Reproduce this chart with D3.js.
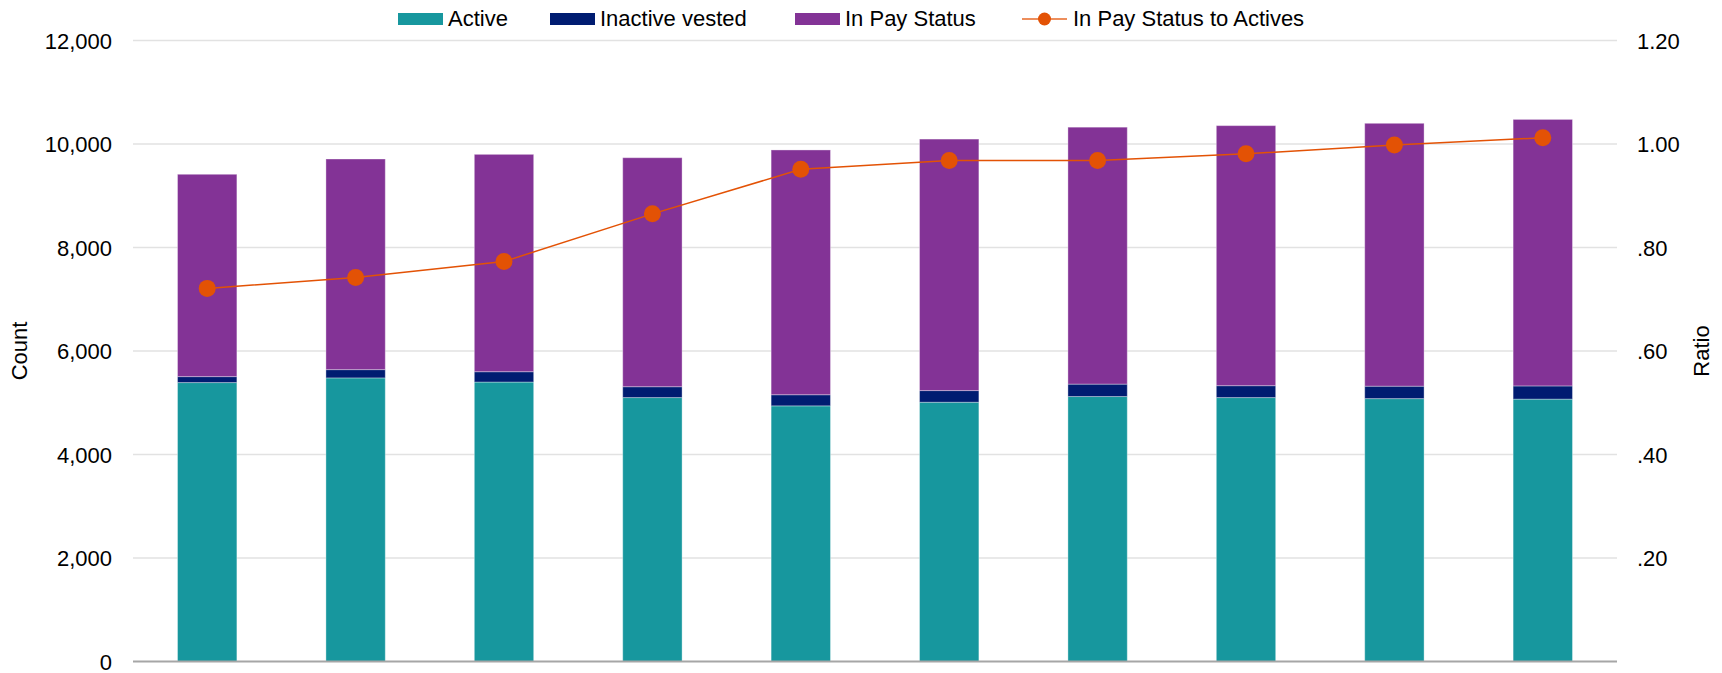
<!DOCTYPE html>
<html>
<head>
<meta charset="utf-8">
<script src="https://cdn.jsdelivr.net/npm/d3@7"></script>
<style>
  html, body { margin: 0; padding: 0; background: #fff; }
  svg { display: block; font-family: "Liberation Sans", Arial, sans-serif; }
</style>
</head>
<body>
<svg id="chart" width="1722" height="673"></svg>
<script>
// ---- data ----
const categories = ["1", "2", "3", "4", "5", "6", "7", "8", "9", "10"];
const active     = [5390, 5480, 5400, 5100, 4940, 5010, 5120, 5100, 5080, 5070];
const inactive   = [115, 160, 200, 210, 215, 225, 240, 230, 240, 255];
const inPay      = [3910, 4070, 4200, 4425, 4730, 4860, 4965, 5025, 5080, 5150];
const ratio      = [0.721, 0.742, 0.773, 0.865, 0.951, 0.968, 0.968, 0.981, 0.998, 1.012];
const countTicks = [0, 2000, 4000, 6000, 8000, 10000, 12000];
const ratioTicks = [0.2, 0.4, 0.6, 0.8, 1.0, 1.2];
const seriesNames = ["Active", "Inactive vested", "In Pay Status"];
const lineName = "In Pay Status to Actives";

const colors = { "Active": "#17979E", "Inactive vested": "#001C71", "In Pay Status": "#833396", line: "#E35205" };

// ---- layout ----
const svg = d3.select("#chart");
const m = { left: 133, right: 1617, top: 40.5, bottom: 661.5 };
const FS = 22;

const x = d3.scaleBand().domain(categories).range([m.left, m.right]).paddingInner(0.6).paddingOuter(0.3);
const yL = d3.scaleLinear().domain([0, 12000]).range([m.bottom, m.top]);
const yR = d3.scaleLinear().domain([0, 1.2]).range([m.bottom, m.top]);

// gridlines
svg.append("g").selectAll("line").data(countTicks.filter(d => d > 0)).join("line")
  .attr("x1", m.left).attr("x2", m.right)
  .attr("y1", d => yL(d)).attr("y2", d => yL(d))
  .attr("stroke", "#e2e2e2").attr("stroke-width", 1.5);

// stacked bars
const rows = categories.map((c, i) => ({ cat: c, "Active": active[i], "Inactive vested": inactive[i], "In Pay Status": inPay[i] }));
const stack = d3.stack().keys(seriesNames)(rows);
svg.append("g").selectAll("g").data(stack).join("g")
  .attr("fill", d => colors[d.key])
  .selectAll("rect").data(d => d).join("rect")
  .attr("x", d => x(d.data.cat))
  .attr("width", x.bandwidth())
  .attr("y", d => yL(d[1]))
  .attr("height", d => yL(d[0]) - yL(d[1]))
  .attr("stroke", "#ffffff").attr("stroke-opacity", 0.35).attr("stroke-width", 1);

// baseline
svg.append("line").attr("x1", m.left).attr("x2", m.right)
  .attr("y1", yL(0)).attr("y2", yL(0))
  .attr("stroke", "#a6a6a6").attr("stroke-width", 2);

// line series
const cx = (d, i) => x(categories[i]) + x.bandwidth() / 2;
svg.append("path").datum(ratio)
  .attr("fill", "none").attr("stroke", colors.line).attr("stroke-width", 1.5)
  .attr("d", d3.line().x(cx).y(d => yR(d)));
svg.append("g").selectAll("circle").data(ratio).join("circle")
  .attr("cx", cx).attr("cy", d => yR(d)).attr("r", 8.5).attr("fill", colors.line);

// left axis
const leftAxis = d3.axisLeft(yL).tickValues(countTicks).tickSize(0).tickPadding(0)
  .tickFormat(d3.format(","));
const gl = svg.append("g").attr("transform", `translate(${m.left - 21},0)`).call(leftAxis);
gl.select(".domain").remove();
gl.selectAll("text").attr("font-size", FS).attr("fill", "#000").attr("font-family", "Liberation Sans, Arial, sans-serif").attr("dy", "0.36em");

// right axis
const fmtR = d => { const s = d3.format(".2f")(d); return s.startsWith("0") ? s.slice(1) : s; };
const rightAxis = d3.axisRight(yR).tickValues(ratioTicks).tickSize(0).tickPadding(0).tickFormat(fmtR);
const gr = svg.append("g").attr("transform", `translate(${m.right + 20},0)`).call(rightAxis);
gr.select(".domain").remove();
gr.selectAll("text").attr("font-size", FS).attr("fill", "#000").attr("font-family", "Liberation Sans, Arial, sans-serif").attr("dy", "0.36em");

// axis titles
const midY = (m.top + m.bottom) / 2;
svg.append("text").attr("transform", `translate(27,${midY}) rotate(-90)`)
  .attr("text-anchor", "middle").attr("font-size", FS).text("Count");
svg.append("text").attr("transform", `translate(1709,${midY}) rotate(-90)`)
  .attr("text-anchor", "middle").attr("font-size", FS).text("Ratio");

// legend
const leg = svg.append("g");
const legItems = [
  { name: seriesNames[0], x: 398 },
  { name: seriesNames[1], x: 550 },
  { name: seriesNames[2], x: 795 }
];
legItems.forEach(it => {
  leg.append("rect").attr("x", it.x).attr("y", 13).attr("width", 45).attr("height", 12).attr("fill", colors[it.name]);
  leg.append("text").attr("x", it.x + 50).attr("y", 26).attr("font-size", FS).text(it.name);
});
leg.append("line").attr("x1", 1022).attr("x2", 1067).attr("y1", 19).attr("y2", 19)
  .attr("stroke", colors.line).attr("stroke-opacity", 0.65).attr("stroke-width", 2);
leg.append("circle").attr("cx", 1044.5).attr("cy", 19).attr("r", 6.5).attr("fill", colors.line);
leg.append("text").attr("x", 1073).attr("y", 26).attr("font-size", FS).text(lineName);
</script>
</body>
</html>
